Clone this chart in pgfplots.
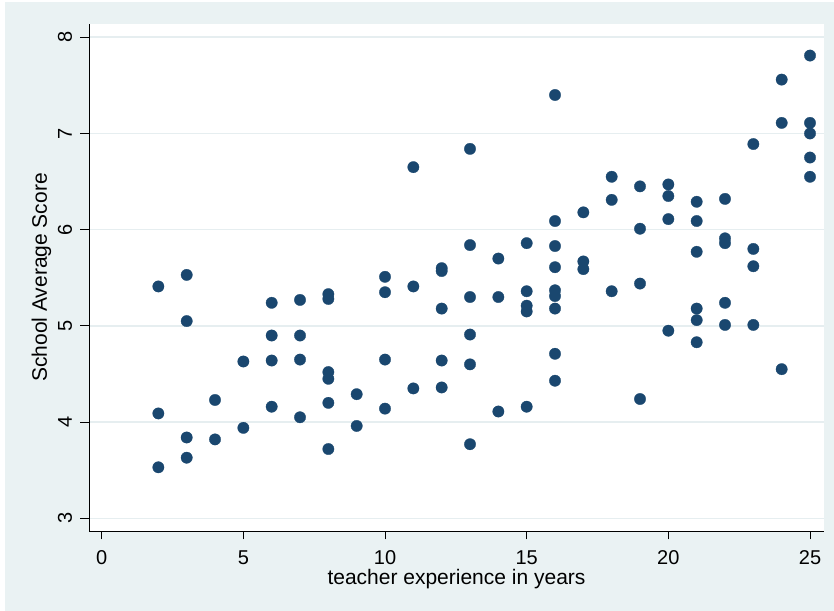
\documentclass[border=0pt]{standalone}
\usepackage{pgfplots}
\pgfplotsset{compat=1.18}
\usepackage{fontspec}
\setmainfont{Liberation Sans}
\definecolor{stbg}{RGB}{234,242,243}
\definecolor{stgrid}{RGB}{230,238,240}
\definecolor{stnavy}{RGB}{26,71,111}
\newcommand{\ticksize}{\fontsize{20bp}{23bp}\selectfont}
\newcommand{\titlesize}{\fontsize{21bp}{25bp}\selectfont}
\begin{document}
\begin{tikzpicture}
% graph region
\fill[white] (0,0) rectangle (834bp,611bp);
\fill[stbg] (5bp,0) rectangle (834bp,609bp);
\begin{axis}[
  at={(89bp,80bp)}, anchor=south west,
  scale only axis, width=735bp, height=507bp,
  xmin=-0.448, xmax=25.494, ymin=2.868, ymax=8.138,
  axis x line*=bottom, axis y line*=left,
  axis line style={-, black, line width=0.9bp},
  axis background/.style={fill=white},
  xtick={0,5,...,25}, ytick={3,4,...,8},
  tick align=outside, major tick length=8.5bp,
  tick style={black, line width=0.8bp},
  ymajorgrids, grid style={stgrid, line width=1.6bp},
  /pgf/number format/assume math mode=true,
  xticklabel style={font=\ticksize, anchor=base, yshift=-24.5bp},
  yticklabel style={font=\ticksize, anchor=base, xshift=-8.5bp, rotate=90},
  every axis x label/.style={at={(axis description cs:0.5,0)}, anchor=base, yshift=-53bp, font=\titlesize},
  every axis y label/.style={at={(axis description cs:0,0.5)}, anchor=base, xshift=-42bp, rotate=90, font=\titlesize},
  xlabel={teacher experience in years},
  ylabel={School Average Score},
]
\addplot[only marks, mark=*, mark size=5.7bp, mark options={draw=stnavy, fill=stnavy, line width=0.3bp}] table {
x y
2 5.41
2 4.09
2 3.53
3 5.53
3 5.05
3 3.84
3 3.63
4 4.23
4 3.82
5 4.63
5 3.94
6 5.24
6 4.90
6 4.64
6 4.16
7 5.27
7 4.90
7 4.65
7 4.05
8 5.33
8 5.28
8 4.52
8 4.45
8 4.20
8 3.72
9 4.29
9 3.96
10 5.51
10 5.35
10 4.65
10 4.14
11 6.65
11 5.41
11 4.35
12 5.60
12 5.57
12 5.18
12 4.64
12 4.36
13 6.84
13 5.84
13 5.30
13 4.91
13 4.60
13 3.77
14 5.70
14 5.30
14 4.11
15 5.86
15 5.36
15 5.21
15 5.15
15 4.16
16 7.40
16 6.09
16 5.83
16 5.61
16 5.37
16 5.31
16 5.18
16 4.71
16 4.43
17 6.18
17 5.67
17 5.59
18 6.55
18 6.31
18 5.36
19 6.45
19 6.01
19 5.44
19 4.24
20 6.47
20 6.35
20 6.11
20 4.95
21 6.29
21 6.09
21 5.77
21 5.18
21 5.06
21 4.83
22 6.32
22 5.91
22 5.86
22 5.24
22 5.01
23 6.89
23 5.80
23 5.62
23 5.01
24 7.56
24 7.11
24 4.55
25 7.81
25 7.11
25 7.00
25 6.75
25 6.55
};
\end{axis}
\end{tikzpicture}
\end{document}
